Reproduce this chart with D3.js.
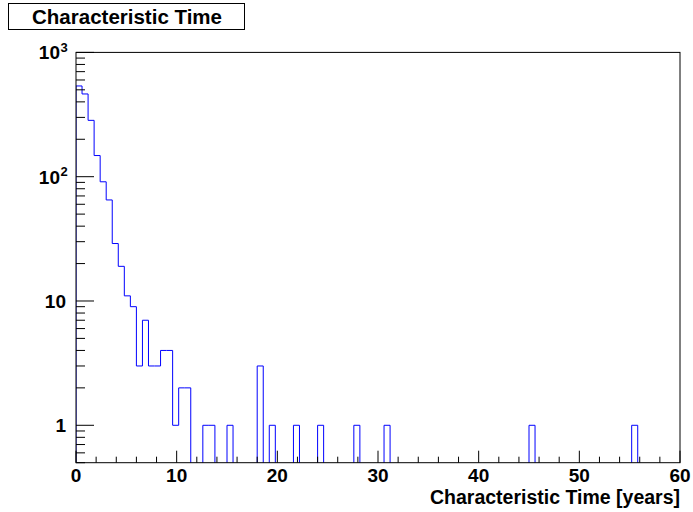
<!DOCTYPE html>
<html>
<head>
<meta charset="utf-8">
<script src="https://cdn.jsdelivr.net/npm/d3@7"></script>
<style>
  html, body { margin: 0; padding: 0; background: #fff; }
  svg { display: block; font-family: "Liberation Sans", Arial, Helvetica, sans-serif; font-weight: bold; }
</style>
</head>
<body>
<svg id="chart" width="693" height="512"></svg>
<script>
// ---- data ----
const title = "Characteristic Time";
const xTitle = "Characteristic Time [years]";
const xRange = [0, 60];
const yRange = [0.5, 1000];
const binWidth = 0.6;
// counts per bin (100 bins of 0.6 years from 0 to 60)
const counts = [
  537, 463, 284, 148, 91, 65, 29, 19, 11, 9,
  3, 7, 3, 3, 4, 4, 1, 2, 2, 0,
  0, 1, 1, 0, 0, 1, 0, 0, 0, 0,
  3, 0, 1, 0, 0, 0, 1, 0, 0, 0,
  1, 0, 0, 0, 0, 0, 1, 0, 0, 0,
  0, 1, 0, 0, 0, 0, 0, 0, 0, 0,
  0, 0, 0, 0, 0, 0, 0, 0, 0, 0,
  0, 0, 0, 0, 0, 1, 0, 0, 0, 0,
  0, 0, 0, 0, 0, 0, 0, 0, 0, 0,
  0, 0, 1, 0, 0, 0, 0, 0, 0, 0
];
const xTicks = [0, 10, 20, 30, 40, 50, 60];
const yTickLabels = [
  { v: 1, base: "1", exp: "" },
  { v: 10, base: "10", exp: "" },
  { v: 100, base: "10", exp: "2" },
  { v: 1000, base: "10", exp: "3" }
];

// ---- layout ----
const L = 76, R = 680, T = 52.4, B = 462.7;
const svg = d3.select("#chart");
const x = d3.scaleLinear().domain(xRange).range([L, R]);
const y = d3.scaleLog().domain(yRange).range([B, T]);

// title box
svg.append("rect").attr("x", 8.5).attr("y", 3.5).attr("width", 236).attr("height", 26)
  .attr("fill", "#fff").attr("stroke", "#000").attr("stroke-width", 1);
svg.append("text").attr("x", 127).attr("y", 23.5).attr("text-anchor", "middle")
  .attr("font-size", 20.5).text(title);

// clip
svg.append("clipPath").attr("id", "frameclip").append("rect")
  .attr("x", L).attr("y", T).attr("width", R - L).attr("height", B - T);

// histogram step line
const pts = [[x(0), B]];
counts.forEach((c, i) => {
  const yy = c > 0 ? y(c) : B + 2;
  pts.push([x(i * binWidth), yy]);
  pts.push([x((i + 1) * binWidth), yy]);
});
pts.push([x(counts.length * binWidth), B]);
svg.append("path").attr("clip-path", "url(#frameclip)")
  .attr("d", d3.line()(pts)).attr("fill", "none")
  .attr("stroke", "#0000ff").attr("stroke-width", 1);

// frame
svg.append("rect").attr("x", L).attr("y", T).attr("width", R - L).attr("height", B - T)
  .attr("fill", "none").attr("stroke", "#000").attr("stroke-width", 1);

// x axis ticks (major every 10, minor every 2)
const xMinor = d3.range(0, 61, 2);
svg.append("g").selectAll("line").data(xMinor).join("line")
  .attr("x1", d => x(d)).attr("x2", d => x(d))
  .attr("y1", B).attr("y2", d => B - (d % 10 === 0 ? 12 : 6))
  .attr("stroke", "#000").attr("stroke-width", 1);
svg.append("g").selectAll("text").data(xTicks).join("text")
  .attr("x", d => x(d)).attr("y", 482).attr("text-anchor", "middle")
  .attr("font-size", 19).text(d => d);
svg.append("text").attr("x", R).attr("y", 503.5).attr("text-anchor", "end")
  .attr("font-size", 19.5).text(xTitle);

// y axis ticks
const yMinor = [];
[0.1, 1, 10, 100].forEach(dec => {
  for (let k = 1; k <= 9; k++) {
    const v = dec * k;
    if (v >= yRange[0] && v <= yRange[1]) yMinor.push(v);
  }
});
yMinor.push(1000);
svg.append("g").selectAll("line").data(yMinor).join("line")
  .attr("x1", L).attr("x2", d => L + ([1, 10, 100, 1000].includes(Math.round(d * 1000) / 1000) ? 18 : 9))
  .attr("y1", d => y(d)).attr("y2", d => y(d))
  .attr("stroke", "#000").attr("stroke-width", 1);

const yl = svg.append("g").selectAll("text").data(yTickLabels).join("text")
  .attr("x", d => d.exp ? 60 : 66).attr("y", d => y(d.v) + 7)
  .attr("text-anchor", "end").attr("font-size", 19);
yl.append("tspan").text(d => d.base);
svg.append("g").selectAll("text").data(yTickLabels.filter(d => d.exp)).join("text")
  .attr("x", 60.5).attr("y", d => y(d.v) - 0.5)
  .attr("font-size", 13).text(d => d.exp);
</script>
</body>
</html>
